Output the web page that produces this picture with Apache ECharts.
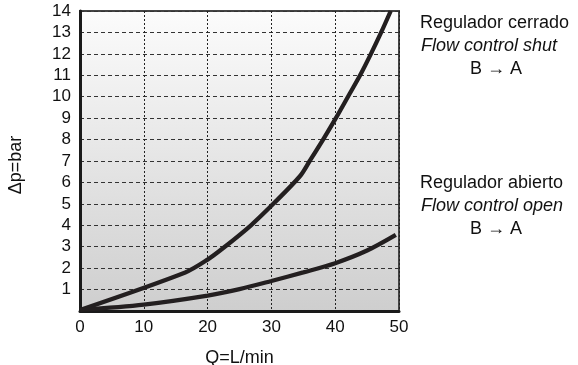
<!DOCTYPE html>
<html><head><meta charset="utf-8">
<script src="https://cdn.jsdelivr.net/npm/echarts@6/dist/echarts.min.js"></script>
<style>html,body{margin:0;padding:0;background:#fff}#c{width:578px;height:365px}</style>
</head><body><div id="c"></div>
<script>
var qShut = [0, 16.5, 20, 22.5, 26.8, 30.3, 34.5, 36.0, 38.1, 40.1, 42.0, 43.9, 45.6, 47.2, 48.7];
var pShut = [0.05, 1.8, 2.4, 2.95, 4, 5, 6.3, 7, 8, 9, 10, 11, 12, 13, 14];
var qOpen = [0, 10, 20, 25, 30, 35, 40, 45, 49.5];
var pOpen = [0.05, 0.3, 0.72, 1.02, 1.4, 1.8, 2.23, 2.82, 3.55];
var xTicks = [0, 10, 20, 30, 40, 50];
var yTicks = [1, 2, 3, 4, 5, 6, 7, 8, 9, 10, 11, 12, 13, 14];
var xName = 'Q=L/min';
var yName = '\u0394p=bar';
var legendShut = ['Regulador cerrado', 'Flow control shut', 'B \u2192 A'];
var legendOpen = ['Regulador abierto', 'Flow control open', 'B \u2192 A'];

function pairs(a, b) { return a.map(function (v, i) { return [v, b[i]]; }); }
var chart = echarts.init(document.getElementById('c'), null, {renderer: 'canvas'});
var font = 'Liberation Sans, Arial, sans-serif';
function block(lines, cy) {
  return [
    {type: 'text', x: 420, y: cy, style: {text: lines[0], font: '18px ' + font, fill: '#111', verticalAlign: 'middle'}},
    {type: 'text', x: 421, y: cy + 23, style: {text: lines[1], font: 'italic 18px ' + font, fill: '#111', verticalAlign: 'middle'}},
    {type: 'text', x: 496, y: cy + 46, style: {text: lines[2], font: '18px ' + font, fill: '#111', align: 'center', verticalAlign: 'middle'}}
  ];
}
chart.setOption({
  animation: false,
  grid: {left: 80, right: 179, top: 11, bottom: 54, show: true, borderColor: '#444', borderWidth: 2,
    containLabel: false, outerBoundsMode: 'none',
    backgroundColor: {type: 'linear', x: 0, y: 0, x2: 0, y2: 1, colorStops: [{offset: 0, color: '#fcfcfc'}, {offset: 1, color: '#cecece'}]}},
  xAxis: {type: 'value', min: 0, max: 50, interval: 10,
    name: xName, nameLocation: 'middle', nameGap: 38,
    nameTextStyle: {fontFamily: font, fontSize: 18, color: '#111'},
    axisLine: {lineStyle: {color: '#1a1a1a', width: 3}},
    axisTick: {show: false},
    axisLabel: {fontFamily: font, fontSize: 17, color: '#111', margin: 8,
      formatter: function (v) { return xTicks.indexOf(v) >= 0 ? String(v) : ''; }},
    splitLine: {show: true, lineStyle: {color: '#222', width: 1, type: [2, 2]}}},
  yAxis: {type: 'value', min: 0, max: 14, interval: 1,
    axisLine: {show: true, lineStyle: {color: '#1a1a1a', width: 3}},
    axisTick: {show: false},
    axisLabel: {fontFamily: font, fontSize: 17, color: '#111', margin: 9,
      formatter: function (v) { return yTicks.indexOf(v) >= 0 ? String(v) : ''; }},
    splitLine: {show: true, lineStyle: {color: '#333', width: 1, type: [4, 3]}}},
  series: [
    {type: 'line', data: pairs(qShut, pShut), showSymbol: false, smooth: 0.3,
      lineStyle: {color: '#231f20', width: 4.3}},
    {type: 'line', data: pairs(qOpen, pOpen), showSymbol: false, smooth: 0.3,
      lineStyle: {color: '#231f20', width: 4.3}}
  ],
  graphic: [
    {type: 'text', x: 16, y: 165, rotation: Math.PI / 2,
      style: {text: yName, font: '18px ' + font, fill: '#111', align: 'center', verticalAlign: 'middle'}}
  ].concat(block(legendShut, 23)).concat(block(legendOpen, 183))
});
</script></body></html>
